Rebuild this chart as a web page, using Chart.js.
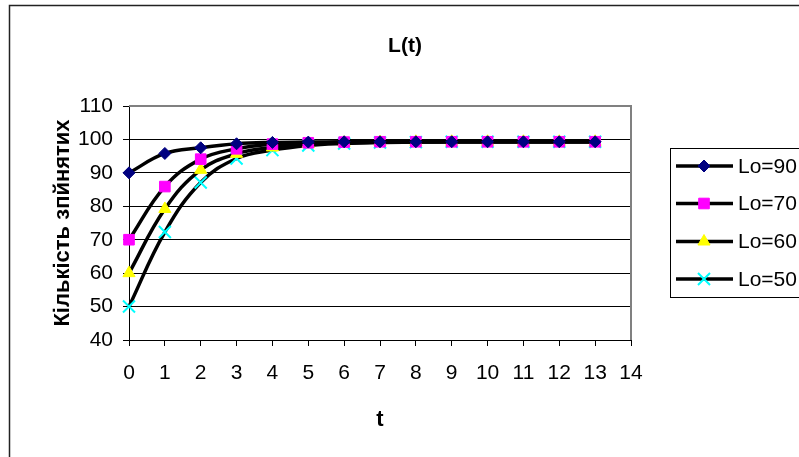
<!DOCTYPE html>
<html lang="uk">
<head>
<meta charset="UTF-8">
<title>L(t)</title>
<script src="https://cdn.jsdelivr.net/npm/chart.js"></script>
<style>
  html, body { margin: 0; padding: 0; background: #fff; }
  canvas { display: block; }
</style>
</head>
<body>
<canvas id="chart" width="799" height="457"></canvas>
<script>
// time steps and the four series
const tValues = [0, 1, 2, 3, 4, 5, 6, 7, 8, 9, 10, 11, 12, 13];
const lo90 = [90, 95.8, 97.5, 98.7, 99.1, 99.2, 99.3, 99.3, 99.3, 99.3, 99.3, 99.3, 99.3, 99.3];
const lo70 = [70, 85.9, 94.1, 97.2, 98.6, 99.0, 99.2, 99.3, 99.3, 99.3, 99.3, 99.3, 99.3, 99.3];
const lo60 = [60, 79.2, 90.9, 95.7, 97.6, 98.6, 99.0, 99.2, 99.3, 99.3, 99.3, 99.3, 99.3, 99.3];
const lo50 = [50, 72.3, 87.1, 94.3, 96.8, 98.2, 98.8, 99.1, 99.2, 99.3, 99.3, 99.3, 99.3, 99.3];
const seriesNames = ['Lo=90', 'Lo=70', 'Lo=60', 'Lo=50'];

const xMin = 0, xMax = 14;
const yMin = 40, yMax = 110, yStep = 10;

const FONT = 'Arial, "Liberation Sans", sans-serif';

const markers = [
  { pointStyle: 'rectRot', color: '#000080', radius: 6 },
  { pointStyle: 'rect', color: '#ff00ff', radius: 7.5 },
  { pointStyle: 'triangle', color: '#ffff00', radius: 7 },
  { pointStyle: 'crossRot', color: '#00ffff', radius: 8.5 }
];

function makeDataset(name, values, m) {
  return {
    label: name,
    data: values.map((v, i) => ({ x: tValues[i], y: v })),
    showLine: true,
    borderColor: '#000',
    borderWidth: 3.5,
    tension: 0.4,
    pointStyle: m.pointStyle,
    pointRadius: m.radius,
    pointHoverRadius: m.radius,
    pointBackgroundColor: m.color,
    pointBorderColor: m.color,
    pointBorderWidth: m.pointStyle === 'crossRot' ? 2 : 1,
    clip: false
  };
}

// frame, title, plot border and legend, Excel style
const decorations = {
  id: 'decorations',
  beforeDraw(chart) {
    const ctx = chart.ctx;
    ctx.save();
    ctx.fillStyle = '#fff';
    ctx.fillRect(0, 0, chart.width, chart.height);
    ctx.restore();
  },
  beforeDatasetsDraw(chart) {
    const ctx = chart.ctx;
    const a = chart.chartArea;
    ctx.save();
    ctx.strokeStyle = '#808080';
    ctx.lineWidth = 2;
    ctx.beginPath();
    ctx.moveTo(a.left, a.top);
    ctx.lineTo(a.right, a.top);
    ctx.lineTo(a.right, a.bottom);
    ctx.stroke();
    ctx.restore();
  },
  afterDraw(chart) {
    const ctx = chart.ctx;
    ctx.save();
    // outer frame
    ctx.strokeStyle = '#222';
    ctx.lineWidth = 1.5;
    ctx.beginPath();
    ctx.moveTo(9.5, chart.height + 2);
    ctx.lineTo(9.5, 5.5);
    ctx.lineTo(chart.width + 2, 5.5);
    ctx.stroke();

    // title
    ctx.fillStyle = '#000';
    ctx.font = 'bold 21px ' + FONT;
    ctx.textAlign = 'center';
    ctx.textBaseline = 'middle';
    ctx.fillText('L(t)', 405, 46);

    // legend
    const boxLeft = 670.5, boxTop = 148.5, boxBottom = 297.5;
    ctx.strokeStyle = '#000';
    ctx.lineWidth = 1;
    ctx.strokeRect(boxLeft, boxTop, chart.width + 10 - boxLeft, boxBottom - boxTop);
    const rowY = [166, 203.5, 241.5, 279];
    ctx.font = '21px ' + FONT;
    ctx.textAlign = 'left';
    chart.data.datasets.forEach((ds, i) => {
      const y = rowY[i];
      ctx.strokeStyle = '#000';
      ctx.lineWidth = 3.5;
      ctx.beginPath();
      ctx.moveTo(676, y);
      ctx.lineTo(733, y);
      ctx.stroke();
      ctx.fillStyle = ds.pointBackgroundColor;
      ctx.strokeStyle = ds.pointBorderColor;
      ctx.lineWidth = ds.pointBorderWidth;
      Chart.helpers.drawPoint(ctx, {
        pointStyle: ds.pointStyle,
        radius: ds.pointRadius,
        rotation: 0,
        borderWidth: ds.pointBorderWidth
      }, 704, y);
      ctx.fillStyle = '#000';
      ctx.fillText(ds.label, 738, y + 1);
    });
    ctx.restore();
  }
};

new Chart(document.getElementById('chart'), {
  type: 'scatter',
  data: {
    datasets: [
      makeDataset(seriesNames[0], lo90, markers[0]),
      makeDataset(seriesNames[1], lo70, markers[1]),
      makeDataset(seriesNames[2], lo60, markers[2]),
      makeDataset(seriesNames[3], lo50, markers[3])
    ]
  },
  options: {
    responsive: false,
    animation: false,
    layout: { padding: { top: 106, right: 168, left: 0, bottom: 0 } },
    plugins: {
      legend: { display: false },
      title: { display: false },
      tooltip: { enabled: false }
    },
    scales: {
      x: {
        type: 'linear',
        min: xMin,
        max: xMax,
        afterFit(scale) { scale.height = 117; },
        ticks: { stepSize: 1, color: '#000', font: { family: FONT, size: 21 }, padding: 15, maxRotation: 0, autoSkip: false },
        grid: { drawOnChartArea: false, color: '#000', tickLength: 6 },
        border: { color: '#000', width: 1 },
        title: { display: true, text: 't', color: '#000', font: { family: FONT, size: 22, weight: 'bold' }, padding: { top: 0, bottom: 24 } }
      },
      y: {
        min: yMin,
        max: yMax,
        afterFit(scale) { scale.width = 129; },
        ticks: { stepSize: yStep, color: '#000', font: { family: FONT, size: 21 }, padding: 10 },
        grid: { color: '#000', lineWidth: 1, tickLength: 6 },
        border: { color: '#000', width: 1 },
        title: { display: true, text: 'Кількість зпйнятих', color: '#000', font: { family: FONT, size: 22, weight: 'bold' }, padding: { top: 50, bottom: 0 } }
      }
    }
  },
  plugins: [decorations]
});
</script>
</body>
</html>
